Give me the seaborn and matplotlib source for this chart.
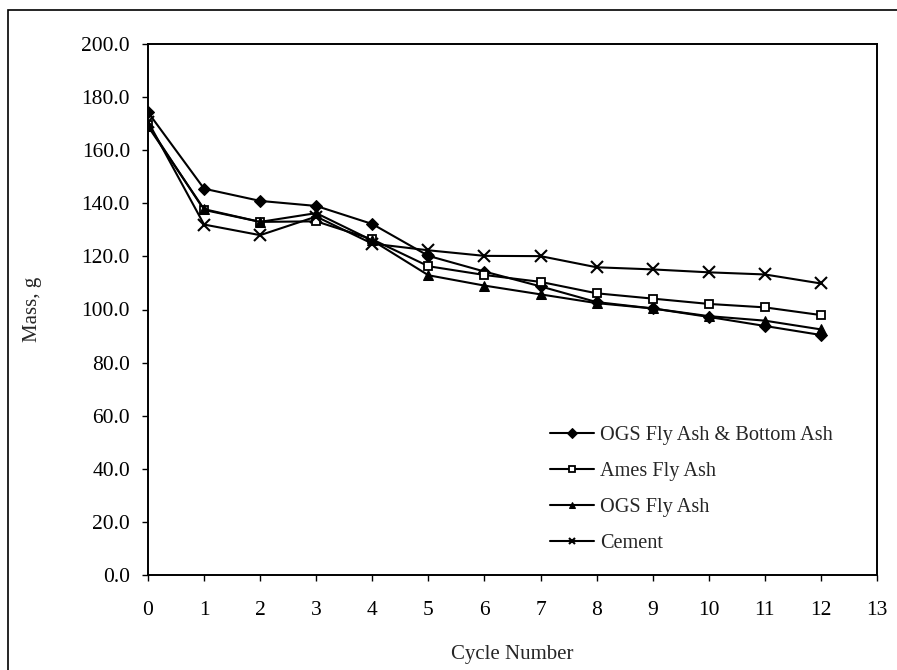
import matplotlib
matplotlib.use("Agg")
import matplotlib.pyplot as plt
import matplotlib.patches as mpatches
import seaborn as sns
import pandas as pd

cycles = list(range(13))
ogs_fa_ba = [174.3, 145.5, 140.9, 139.0, 132.2, 120.2, 114.3, 108.7, 102.8, 100.4, 97.2, 93.8, 90.4]
ames_fa = [169.5, 137.5, 133.0, 133.2, 126.4, 116.3, 113.0, 110.4, 106.1, 104.1, 102.1, 100.8, 97.9]
ogs_fa = [169.0, 137.8, 133.0, 136.3, 126.0, 112.9, 109.0, 105.7, 102.4, 100.4, 97.5, 95.8, 92.5]
cement = [170.8, 132.0, 128.0, 135.0, 124.8, 122.3, 120.2, 120.1, 115.9, 115.1, 114.0, 113.2, 109.8]

series = ["OGS Fly Ash & Bottom Ash", "Ames Fly Ash", "OGS Fly Ash", "Cement"]
values = [ogs_fa_ba, ames_fa, ogs_fa, cement]
y_ticks = [0, 20, 40, 60, 80, 100, 120, 140, 160, 180, 200]
x_ticks = list(range(14))

sns.set_theme(style="ticks")
plt.rcParams["font.family"] = ["Liberation Serif", "DejaVu Serif"]

W, H = 897, 670
fig = plt.figure(figsize=(W / 100, H / 100), dpi=100)
fig.patch.set_facecolor("white")
ax = fig.add_axes([148 / W, 1 - 575 / H, (877 - 148) / W, (575 - 44) / H])

styles = [
    dict(marker="D", markersize=6, markerfacecolor="black", markeredgecolor="black"),
    dict(marker="s", markersize=6, markerfacecolor="white", markeredgecolor="black", markeredgewidth=1.3),
    dict(marker="^", markersize=7, markerfacecolor="black", markeredgecolor="black"),
    dict(marker="x", markersize=8, markeredgecolor="black", markeredgewidth=1.5),
]
for name, vals, st in zip(series, values, styles):
    df = pd.DataFrame({"Cycle": cycles, "Mass": vals})
    sns.lineplot(data=df, x="Cycle", y="Mass", ax=ax, color="black", linewidth=1.5,
                 label=name, **st)

ax.set_xlim(0, 13)
ax.set_ylim(0, 200)
ax.set_xticks(x_ticks)
ax.set_yticks(y_ticks)
ax.set_yticklabels([f"{v:.1f}" for v in y_ticks])
ax.tick_params(axis="both", direction="out", length=4.5, width=1, colors="black",
               labelsize=15.5)
ax.tick_params(axis="y", pad=8.5)
ax.tick_params(axis="x", pad=14.5)
for s in ax.spines.values():
    s.set_color("black")
    s.set_linewidth(1.4)
ax.set_xlabel("Cycle Number", fontsize=15, labelpad=18)
ax.set_ylabel("Mass, g", fontsize=15, labelpad=28)

leg = ax.legend(loc="upper left", bbox_to_anchor=((540 - 148) / (877 - 148), (575 - 416) / (575 - 44)),
                frameon=False, fontsize=14.6, handlelength=2.15, handletextpad=0.3,
                labelspacing=0.82, borderpad=0)
for h in leg.legend_handles:
    h.set_markersize(5)

fig.add_artist(mpatches.Rectangle((8 / W, -0.05), 1.0, 1 - 10 / H + 0.05,
                                  transform=fig.transFigure, fill=False,
                                  edgecolor="black", linewidth=1.2))

fig.savefig("out.png", dpi=100, facecolor="white")
